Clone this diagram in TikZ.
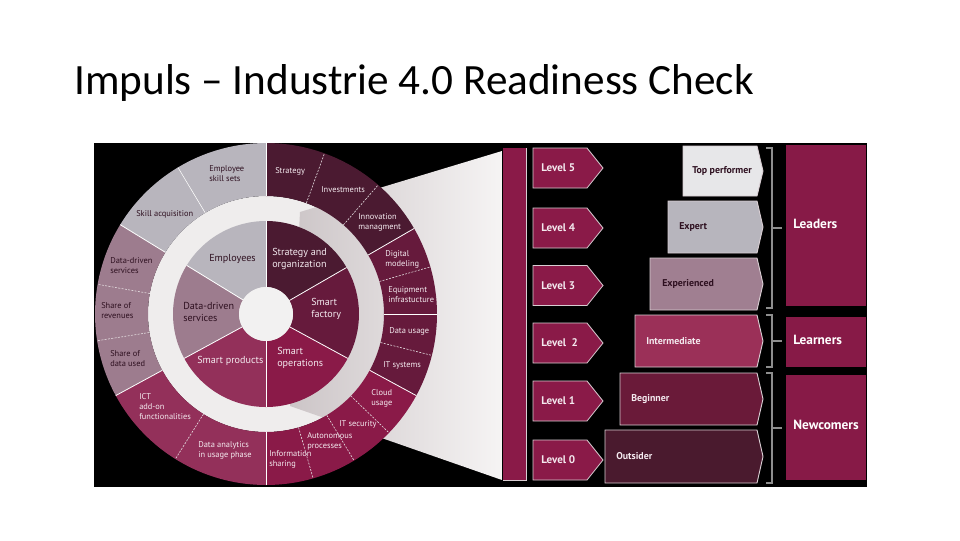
\documentclass[tikz,border=0pt]{standalone}
\usepackage{fontspec}
\setmainfont{PT Sans}
\newfontfamily\titlefont{Carlito}
\definecolor{cStrat}{HTML}{4B1A31}
\definecolor{cFact}{HTML}{661A3C}
\definecolor{cOps}{HTML}{8A1A48}
\definecolor{cProd}{HTML}{93305A}
\definecolor{cData}{HTML}{9D7C8E}
\definecolor{cEmp}{HTML}{B8B5BD}
\definecolor{cGap}{HTML}{EFEDED}
\definecolor{cCenter}{HTML}{F2F1F1}
\definecolor{tDark}{HTML}{2E1020}
\definecolor{tLight}{HTML}{F4EAEF}
\definecolor{cBar}{HTML}{8A1A48}
\definecolor{cBox}{HTML}{871A47}
\definecolor{cTop}{HTML}{E7E7E9}
\definecolor{cExpert}{HTML}{B7B5BD}
\definecolor{cExp}{HTML}{A07F91}
\definecolor{cInter}{HTML}{9B3058}
\definecolor{cBeg}{HTML}{6A1A39}
\definecolor{cOut}{HTML}{4A1A2E}
\definecolor{cEdge}{HTML}{D8CDD2}
\definecolor{cBrace}{HTML}{8E8E8E}
\definecolor{beamL}{HTML}{CCC5C7}
\definecolor{beamR}{HTML}{F6F4F4}
\newcommand\wsec[5]{\fill[#1] (#2:#4) arc[start angle=#2,end angle=#3,radius=#4] -- (#3:#5) arc[start angle=#3,end angle=#2,radius=#5] -- cycle;}
\begin{document}
\begin{tikzpicture}[x=0.75pt,y=-0.75pt,
  lbl/.style={font=\fontsize{6.3}{7.5}\selectfont,align=left,anchor=west,inner sep=0pt},
  dk/.style={lbl,text=tDark},
  lt/.style={lbl,text=tLight},
  inlbl/.style={font=\fontsize{7.6}{9}\selectfont,align=left,anchor=west,inner sep=0pt},
  idk/.style={inlbl,text=tDark},
  ilt/.style={inlbl,text=tLight},
  sep/.style={draw=white,line width=0.6pt},
  sepd/.style={draw=white!85!cStrat,line width=0.45pt,dash pattern=on 1.5pt off 1pt},
  lvlbox/.style={fill=cBar,draw=cEdge,line width=0.6pt},
  lvltxt/.style={font=\bfseries\fontsize{8.3}{9}\selectfont,text=tLight,anchor=west,inner sep=0pt},
  catbox/.style={draw=cEdge,line width=0.7pt},
  cattxt/.style={font=\bfseries\fontsize{7.4}{8}\selectfont,anchor=west,inner sep=0pt},
  brace/.style={draw=cBrace,line width=1.1pt},
  grptxt/.style={font=\bfseries\fontsize{10}{11}\selectfont,text=white,anchor=west,inner sep=0pt}]
\fill[white] (0,0) rectangle (960,540);
\useasboundingbox (0,0) rectangle (960,540);
\node[anchor=base west,inner sep=0pt,font=\titlefont\fontsize{32.4}{38}\selectfont] (title) at (74,94) {Impuls – Industrie 4.0 Readiness Check};
\fill[black] (94,143) rectangle (867,487);
\begin{scope}[shift={(266,314)}]
  \fill[cGap] (0,0) circle[radius=118];
\end{scope}
\shade[left color=beamL,right color=beamR] (300,212) -- (502,151) -- (502,480) -- (290,406) -- cycle;
\begin{scope}[shift={(266,314)}]
  \wsec{cStrat}{-90}{-30}{118}{171}
  \wsec{cFact}{-30}{28.5}{118}{171}
  \wsec{cOps}{28.5}{90}{118}{171}
  \wsec{cProd}{90}{151.5}{118}{171}
  \wsec{cData}{151.5}{211.5}{118}{171}
  \wsec{cEmp}{211.5}{270}{118}{171}
  \wsec{cStrat}{-90}{-30}{27}{93}
  \wsec{cFact}{-30}{28.5}{27}{93}
  \wsec{cOps}{28.5}{90}{27}{93}
  \wsec{cProd}{90}{151.5}{27}{93}
  \wsec{cData}{151.5}{211.5}{27}{93}
  \wsec{cEmp}{211.5}{270}{27}{93}
  \foreach \a in {-90,-30,28.5,90,151.5,211.5} {\draw[sep] (\a:118) -- (\a:171); \draw[sep] (\a:27) -- (\a:93);}
  \foreach \a in {-70,-49,-16,14,44,59,74,122,171,190} {\draw[sepd] (\a:118) -- (\a:171);}
  \foreach \a in {0,239} {\draw[sep,line width=0.4pt] (\a:118) -- (\a:171);}
  \fill[cCenter] (0,0) circle[radius=27];
\end{scope}
% outer labels
\node[dk] (ess) at (209,174) {Employee\\skill sets};
\node[dk] (ska) at (136,214) {Skill acquisition};
\node[dk] (dds) at (110,265.5) {Data-driven\\services};
\node[dk] (sor) at (101,311) {Share of\\revenues};
\node[dk] (sdu) at (110,359) {Share of\\data used};
\node[lt] (str) at (275,171) {Strategy};
\node[lt] (inv) at (321,190) {Investments};
\node[lt] (inn) at (358,222) {Innovation\\managment};
\node[lt] (dig) at (385,259.5) {Digital\\modeling};
\node[lt] (equ) at (388,295) {Equipment\\infrastucture};
\node[lt] (dus) at (389,331) {Data usage};
\node[lt] (its) at (383,365) {IT systems};
\node[lt] (clo) at (371,398) {Cloud\\usage};
\node[lt] (sec) at (339,424) {IT security};
\node[lt] (aut) at (307,441) {Autonomous\\processes};
\node[lt] (inf) at (269,459) {Information\\sharing};
\node[lt] (dan) at (198,450) {Data analytics\\in usage phase};
\node[lt] (ict) at (139,407) {ICT\\add-on\\functionalities};
% inner labels
\node[idk] (emp) at (209,259) {Employees};
\node[idk] (dsv) at (183,311.5) {Data-driven\\services};
\node[ilt] (sao) at (272,259) {Strategy and\\organization};
\node[ilt] (sfa) at (311,309) {Smart\\factory};
\node[ilt] (sop) at (277,357.5) {Smart\\operations};
\node[ilt] (spr) at (197,361) {Smart products};
% level bar
\fill[cBar] (503,148) rectangle (526,480);
\draw[cEdge,line width=0.6pt] (526,148) -- (526,480) -- (503,480);
\foreach \yc/\t/\n in {168/Level 5/l5, 228/Level 4/l4, 285.5/Level 3/l3, 343/Level\ \ 2/l2, 401/Level 1/l1, 460/Level 0/l0} {
  \draw[lvlbox] (533,\yc-20) -- (587,\yc-20) -- (603,\yc) -- (587,\yc+20) -- (533,\yc+20) -- cycle;
  \node[lvltxt] (\n) at (541,\yc) {\t};
}
% categories
\foreach \xl/\yt/\yb/\fc/\tc/\t/\xt/\n in {683/146/196/cTop/tDark/Top performer/692/top, 668/201/253/cExpert/tDark/Expert/679/expert, 650/258/310/cExp/tDark/Experienced/662/experienced, 635/315/367/cInter/tLight/Intermediate/646/inter, 620/373/425/cBeg/tLight/Beginner/631/beg, 605/430/483/cOut/tLight/Outsider/616/out} {
  \draw[catbox,fill=\fc] (\xl,\yt) -- (757,\yt) -- (763,{(\yt+\yb)/2}) -- (757,\yb) -- (\xl,\yb) -- cycle;
  \node[cattxt,text=\tc] (\n) at (\xt,{(\yt+\yb)/2}) {\t};
}
% braces
\draw[brace] (766,148) -- (772,148) -- (772,308) -- (766,308);
\draw[brace] (772,228) -- (782,228);
\draw[brace] (766,315) -- (772,315) -- (772,367) -- (766,367);
\draw[brace] (772,341) -- (782,341);
\draw[brace] (766,373) -- (772,373) -- (772,483) -- (766,483);
\draw[brace] (772,428) -- (782,428);
% group boxes
\fill[cBox] (786,145) rectangle (866,306);
\fill[cBox] (786,317) rectangle (866,367);
\fill[cBox] (786,375) rectangle (866,480);
\node[grptxt] (lead) at (793,224) {Leaders};
\node[grptxt] (learn) at (793,340) {Learners};
\node[grptxt] (newc) at (793,425) {Newcomers};
\end{tikzpicture}
\end{document}
